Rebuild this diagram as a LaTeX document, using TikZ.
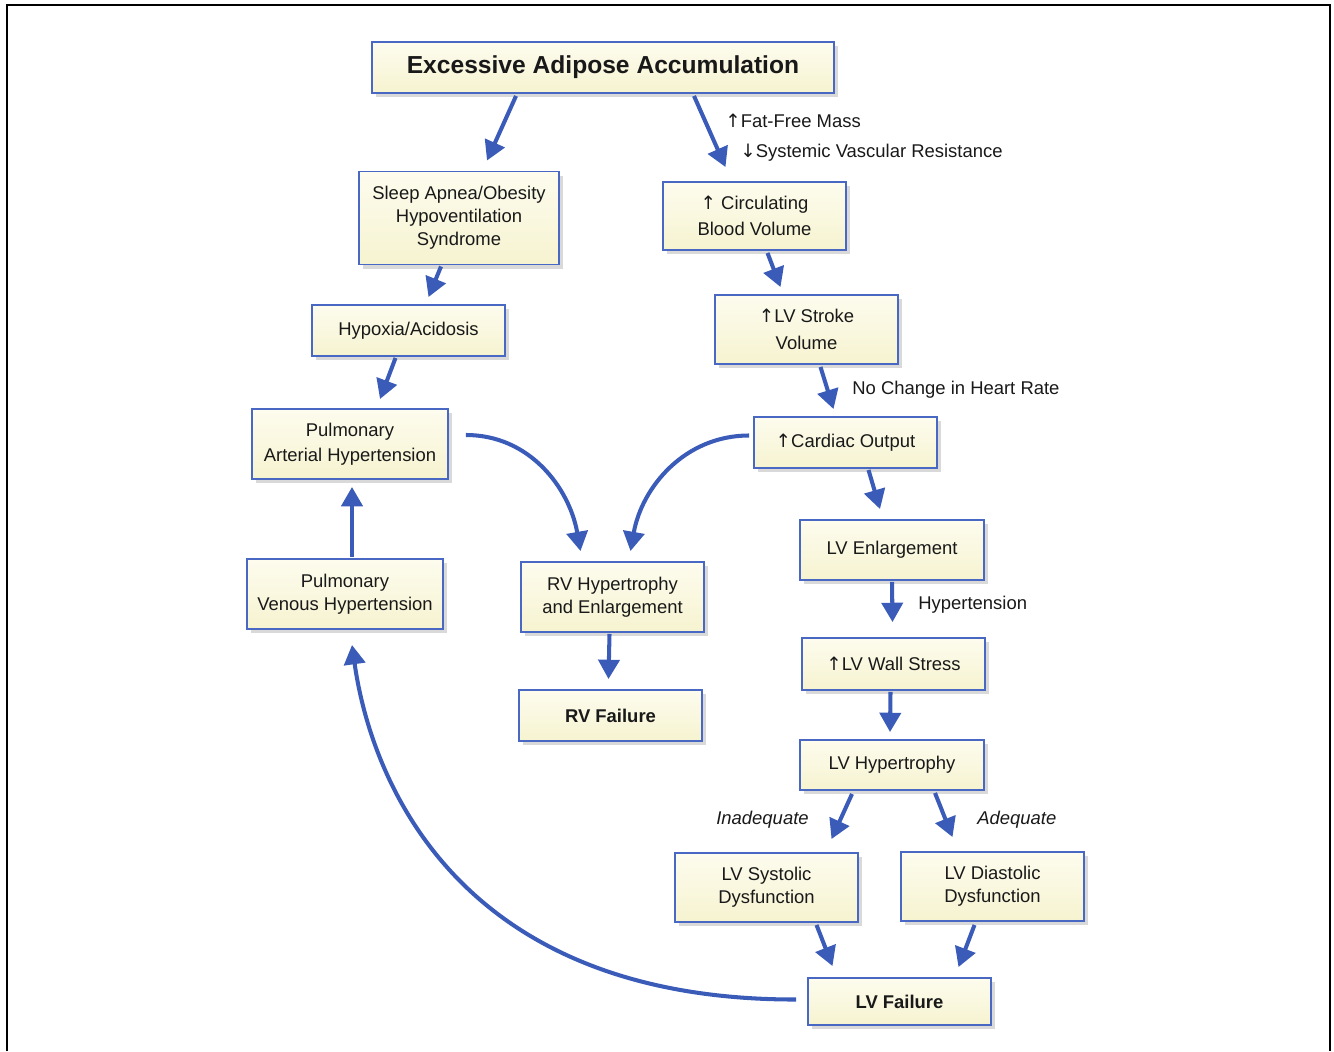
\documentclass[tikz,border=0pt]{standalone}
\usepackage{fontspec}
\setmainfont{Liberation Sans}
\newfontfamily\arrowfont{DejaVu Sans}
\newcommand{\upa}{{\arrowfont ↑}}
\newcommand{\downa}{{\arrowfont ↓}}
\usetikzlibrary{arrows.meta,shadows,calc}
\definecolor{boxblue}{RGB}{72,104,196}
\definecolor{arrblue}{RGB}{58,92,184}
\definecolor{boxtop}{RGB}{253,252,238}
\definecolor{boxbot}{RGB}{246,243,208}
\definecolor{textgray}{RGB}{25,25,25}

\begin{document}
\begin{tikzpicture}[x=0.02cm,y=-0.02cm,
  box/.style={draw=boxblue, line width=1.1pt, top color=boxtop, bottom color=boxbot,
    drop shadow={shadow xshift=2.5pt,shadow yshift=-2.5pt,opacity=0.3},
    align=center, inner sep=2pt, text=textgray, font=\fontsize{10.5}{13}\selectfont},
  arr/.style={arrblue, line width=2.3pt, -{Triangle[width=12pt,length=11pt]}},
  lbl/.style={text=textgray, inner sep=0pt, font=\fontsize{10.5}{13}\selectfont}]
\useasboundingbox (0,0) rectangle (1334,1051);
\draw[line width=1.2pt] (7,1051) -- (7,5) -- (1330,5) -- (1330,1051);

\node[box, minimum width=9.24cm, minimum height=1.02cm, font=\fontsize{14}{16}\selectfont\bfseries] (adipose) at (603,67.5) {Excessive Adipose Accumulation};
\node[box, minimum width=4cm, minimum height=1.86cm] (apnea) at (459,218) {Sleep Apnea/Obesity\\Hypoventilation\\Syndrome};
\node[box, minimum width=3.86cm, minimum height=1.02cm] (hypoxia) at (408.5,330.5) {Hypoxia/Acidosis};
\node[box, minimum width=3.92cm, minimum height=1.4cm] (pah) at (350,444) {Pulmonary\\[1.5pt]Arterial Hypertension};
\node[box, minimum width=3.92cm, minimum height=1.4cm] (pvh) at (345,594) {Pulmonary\\Venous Hypertension};
\node[box, minimum width=3.66cm, minimum height=1.4cm] (rvhyp) at (612.5,597) {RV Hypertrophy\\and Enlargement};
\node[box, minimum width=3.66cm, minimum height=1.02cm, font=\fontsize{10.5}{13}\selectfont\bfseries] (rvfail) at (610.5,715.5) {RV Failure};
\node[box, minimum width=3.66cm, minimum height=1.36cm] (blood) at (754.5,216) {\upa{} Circulating\\[2pt]Blood Volume};
\node[box, minimum width=3.66cm, minimum height=1.38cm] (stroke) at (806.5,329.5) {\upa LV Stroke\\[2pt]Volume};
\node[box, minimum width=3.66cm, minimum height=1.02cm] (output) at (845.5,442.5) {\upa Cardiac Output};
\node[box, minimum width=3.68cm, minimum height=1.2cm] (enlarge) at (892,550) {LV Enlargement};
\node[box, minimum width=3.66cm, minimum height=1.04cm] (wall) at (893.5,664) {\upa LV Wall Stress};
\node[box, minimum width=3.68cm, minimum height=1cm] (lvhyp) at (892,765) {LV Hypertrophy};
\node[box, minimum width=3.66cm, minimum height=1.38cm] (systolic) at (766.5,887.5) {LV Systolic\\Dysfunction};
\node[box, minimum width=3.66cm, minimum height=1.38cm] (diastolic) at (992.5,886.5) {LV Diastolic\\Dysfunction};
\node[box, minimum width=3.66cm, minimum height=0.94cm, font=\fontsize{10.5}{13}\selectfont\bfseries] (lvfail) at (899.5,1001.5) {LV Failure};

\draw[arr] ($(adipose.south)+(-87,2)$) -- ($(apnea.north)+(28,-10)$);
\draw[arr] ($(adipose.south)+(91,2)$) -- ($(blood.north)+(-29,-14)$);
\draw[arr] ($(apnea.south)+(-18,1)$) -- ($(hypoxia.north)+(20,-7)$);
\draw[arr] ($(hypoxia.south)+(-13,1)$) -- ($(pah.north)+(30,-9)$);
\draw[arr] ($(pvh.north)+(7,-1)$) -- ($(pah.south)+(2,7)$);
\draw[arr] ($(pah.east)+(17,-9)$) to[out=0,in=100] ($(rvhyp.north)+(-32,-10)$);
\draw[arr] ($(output.west)+(-4,-7)$) to[out=180,in=80] ($(rvhyp.north)+(18,-10)$);
\draw[arr] ($(rvhyp.south)+(-3,1)$) -- ($(rvfail.north)+(-2,-10)$);
\draw[arr] ($(blood.south)+(13,2)$) -- ($(stroke.north)+(-26,-7)$);
\draw[arr] ($(stroke.south)+(14,2)$) -- ($(output.north)+(-12,-7)$);
\draw[arr] ($(output.south)+(23,1)$) -- ($(enlarge.north)+(-12,-10)$);
\draw[arr] ($(enlarge.south)+(0,1)$) -- ($(wall.north)+(-1,-15)$);
\draw[arr] ($(wall.south)+(-3,1)$) -- ($(lvhyp.north)+(-2,-7)$);
\draw[arr] ($(lvhyp.south)+(-40,3)$) -- ($(systolic.north)+(65,-13)$);
\draw[arr] ($(lvhyp.south)+(43,2)$) -- ($(diastolic.north)+(-40,-14)$);
\draw[arr] ($(systolic.south)+(50,2)$) -- ($(lvfail.north)+(-67,-11)$);
\draw[arr] ($(diastolic.south)+(-18,3)$) -- ($(lvfail.north)+(59,-10)$);
\draw[arr] ($(lvfail.west)+(-11,-2)$) .. controls (441,1000) and (368,759) .. ($(pvh.south)+(7,15)$);

\node[lbl, anchor=west] (fatfree) at (725,121) {\upa Fat-Free Mass};
\node[lbl, anchor=west] (svr) at (740,153) {\downa Systemic Vascular Resistance};
\node[lbl, anchor=west] (heartrate) at (852,390) {No Change in Heart Rate};
\node[lbl, anchor=west] (hypert) at (918,605) {Hypertension};
\node[lbl, anchor=east, font=\fontsize{10.5}{13}\selectfont\itshape] (inadequate) at (809,820) {Inadequate};
\node[lbl, anchor=west, font=\fontsize{10.5}{13}\selectfont\itshape] (adequate) at (977,820) {Adequate};
\end{tikzpicture}
\end{document}
